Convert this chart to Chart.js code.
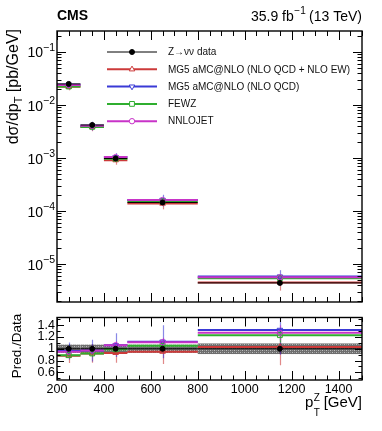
<!DOCTYPE html>
<html>
<head>
<meta charset="utf-8">
<script src="https://cdn.jsdelivr.net/npm/chart.js@4.4.0/dist/chart.umd.min.js"></script>
<style>
  html, body { margin: 0; padding: 0; background: #fff; }
  #wrap { position: relative; width: 382px; height: 431px; overflow: hidden; }
  #main { position: absolute; left: 0; top: 0; }
  #ratio { position: absolute; left: 0; top: 308px; }
</style>
</head>
<body>
<div id="wrap">
  <canvas id="main" width="382" height="308"></canvas>
  <canvas id="ratio" width="382" height="123"></canvas>
</div>
<script>
const FONT = '"Liberation Sans", Arial, Helvetica, sans-serif';

// binning in pT(Z) [GeV]
const binEdges = [200, 300, 400, 500, 800, 1500];
const binCenters = [250, 350, 450, 650, 1150];

// dsigma/dpT [pb/GeV]
const dataXsec    = [0.0250, 0.0042, 0.00098, 1.45e-4, 4.4e-6];
const nloEwXsec   = [0.0220, 0.00386, 0.00091, 1.38e-4, 4.5e-6];
const nloQcdXsec  = [0.0240, 0.00407, 0.00104, 1.62e-4, 5.8e-6];
const fewzXsec    = [0.0223, 0.00386, 0.00097, 1.52e-4, 5.4e-6];
const nnlojetXsec = [0.0238, 0.00407, 0.00104, 1.61e-4, 5.6e-6];

// Pred./Data
const dataRatio    = [1, 1, 1, 1, 1];
const nloEwRatio   = [0.88, 0.92, 0.93, 0.95, 1.03];
const nloQcdRatio  = [0.96, 0.97, 1.06, 1.12, 1.32];
const fewzRatio    = [0.89, 0.92, 0.99, 1.05, 1.23];
const nnlojetRatio = [0.95, 0.97, 1.06, 1.11, 1.27];

// relative uncertainties
const dataRelErr    = [0.07, 0.07, 0.07, 0.07, 0.09];
const nloEwRelErr   = [0.14, 0.17, 0.18, 0.22, 0.30];
const nloQcdRelErr  = [0.15, 0.19, 0.19, 0.25, 0.32];
const fewzRelErr    = [0.05, 0.06, 0.06, 0.08, 0.10];
const nnlojetRelErr = [0.04, 0.05, 0.06, 0.07, 0.10];

// tick labels
const xTicks = [200, 400, 600, 800, 1000, 1200, 1400];
const yTicksMain = [1e-5, 1e-4, 1e-3, 1e-2, 1e-1];
const yTicksRatio = [0.6, 0.8, 1, 1.2, 1.4];

const series = [
  { label: 'Z\u2192\u03bd\u03bd data', xsec: dataXsec, ratio: dataRatio, err: dataRelErr,
    color: '#000000', barColor: '#000000', style: 'circle', rot: 0, fill: true, width: 1, r: 2.5 },
  { label: 'MG5 aMC@NLO (NLO QCD + NLO EW)', xsec: nloEwXsec, ratio: nloEwRatio, err: nloEwRelErr,
    color: '#cc3a3a', barColor: 'rgba(204,58,58,0.6)', style: 'triangle', rot: 0, fill: false, width: 2, r: 3.2 },
  { label: 'MG5 aMC@NLO (NLO QCD)', xsec: nloQcdXsec, ratio: nloQcdRatio, err: nloQcdRelErr,
    color: '#3a3ad6', barColor: 'rgba(58,58,214,0.6)', style: 'triangle', rot: 180, fill: false, width: 2, r: 3.2 },
  { label: 'FEWZ', xsec: fewzXsec, ratio: fewzRatio, err: fewzRelErr,
    color: '#2fae2f', barColor: 'rgba(47,174,47,0.8)', style: 'rect', rot: 0, fill: false, width: 2, r: 3.4 },
  { label: 'NNLOJET', xsec: nnlojetXsec, ratio: nnlojetRatio, err: nnlojetRelErr,
    color: '#c833c8', barColor: 'rgba(200,51,200,0.7)', style: 'circle', rot: 0, fill: false, width: 2, r: 2.7 }
];

function stepPoints(vals) {
  const pts = [];
  vals.forEach((v, i) => {
    pts.push({ x: binEdges[i], y: v }, { x: binEdges[i + 1], y: v }, { x: binEdges[i + 1], y: null });
  });
  return pts;
}

function buildDatasets(key) {
  const sets = [];
  series.forEach((s, k) => {
    const vals = s[key];
    const order = k === 0 ? 0 : 10 - k;
    sets.push({
      data: stepPoints(vals), borderColor: s.color, borderWidth: s.width,
      pointRadius: 0, spanGaps: false, order: order + 20
    });
    sets.push({
      data: binCenters.map((x, i) => ({ x: x, y: vals[i] })),
      showLine: false, pointStyle: s.style, rotation: s.rot,
      pointRadius: s.r, pointBorderWidth: 1,
      pointBorderColor: s.color,
      pointBackgroundColor: s.fill ? s.color : 'rgba(255,255,255,0)',
      order: order,
      barColor: s.barColor,
      bars: vals.map((v, i) => [v * (1 - s.err[i]), v * (1 + s.err[i])])
    });
  });
  return sets;
}

const errorBars = {
  id: 'errorBars',
  beforeDatasetsDraw(chart) {
    const { ctx, chartArea: a, scales: { x, y } } = chart;
    ctx.save();
    ctx.beginPath();
    ctx.rect(a.left, a.top, a.right - a.left, a.bottom - a.top);
    ctx.clip();
    chart.data.datasets.forEach(ds => {
      if (!ds.bars) return;
      ctx.strokeStyle = ds.barColor;
      ctx.lineWidth = 1.2;
      ds.data.forEach((p, i) => {
        const px = Math.round(x.getPixelForValue(p.x)) + 0.5;
        ctx.beginPath();
        ctx.moveTo(px, y.getPixelForValue(ds.bars[i][0]));
        ctx.lineTo(px, y.getPixelForValue(ds.bars[i][1]));
        ctx.stroke();
      });
    });
    ctx.restore();
  }
};

function hatchPattern(ctx) {
  const c = document.createElement('canvas');
  c.width = 4; c.height = 4;
  const g = c.getContext('2d');
  g.fillStyle = '#6e6e6e';
  g.fillRect(0, 0, 4, 4);
  g.fillStyle = '#bdbdbd';
  g.fillRect(0, 0, 1, 1); g.fillRect(2, 2, 1, 1);
  g.fillStyle = '#959595';
  g.fillRect(2, 0, 1, 1); g.fillRect(0, 2, 1, 1);
  return ctx.createPattern(c, 'repeat');
}

const dataBand = {
  id: 'dataBand',
  beforeDatasetsDraw(chart) {
    const { ctx, scales: { x, y } } = chart;
    ctx.save();
    ctx.fillStyle = hatchPattern(ctx);
    dataRelErr.forEach((e, i) => {
      const x0 = x.getPixelForValue(binEdges[i]);
      const x1 = x.getPixelForValue(binEdges[i + 1]);
      const y0 = y.getPixelForValue(1 + e);
      const y1 = y.getPixelForValue(1 - e);
      ctx.fillRect(x0, y0, x1 - x0, y1 - y0);
    });
    ctx.restore();
  }
};

function drawTicks(chart, yMajor, yMinor, xMajLen, xMinLen, yMajLen, yMinLen) {
  const { ctx, chartArea: a, scales: { x, y } } = chart;
  ctx.save();
  ctx.strokeStyle = '#000';
  ctx.lineWidth = 1;
  ctx.beginPath();
  for (let v = 200; v <= 1500; v += 50) {
    const px = Math.round(x.getPixelForValue(v)) + 0.5;
    const len = v % 200 === 0 ? xMajLen : xMinLen;
    ctx.moveTo(px, a.bottom); ctx.lineTo(px, a.bottom - len);
    ctx.moveTo(px, a.top); ctx.lineTo(px, a.top + len);
  }
  yMajor.forEach(v => {
    const py = Math.round(y.getPixelForValue(v)) + 0.5;
    if (py < a.top || py > a.bottom) return;
    ctx.moveTo(a.left, py); ctx.lineTo(a.left + yMajLen, py);
    ctx.moveTo(a.right, py); ctx.lineTo(a.right - yMajLen, py);
  });
  yMinor.forEach(v => {
    const py = Math.round(y.getPixelForValue(v)) + 0.5;
    if (py < a.top || py > a.bottom) return;
    ctx.moveTo(a.left, py); ctx.lineTo(a.left + yMinLen, py);
    ctx.moveTo(a.right, py); ctx.lineTo(a.right - yMinLen, py);
  });
  ctx.stroke();
  ctx.lineWidth = 1.4;
  ctx.strokeRect(a.left, a.top, a.right - a.left, a.bottom - a.top);
  ctx.restore();
}

const mainDecor = {
  id: 'mainDecor',
  afterDraw(chart) {
    const { ctx, scales: { y } } = chart;
    const minor = [];
    for (let n = -6; n <= 0; n++) for (let k = 2; k <= 9; k++) minor.push(k * Math.pow(10, n));
    drawTicks(chart, yTicksMain, minor, 9, 5, 9, 4.5);

    ctx.save();
    ctx.fillStyle = '#000';
    ctx.textBaseline = 'alphabetic';
    // header
    ctx.font = 'bold 14px ' + FONT;
    ctx.textAlign = 'left';
    ctx.fillText('CMS', 57, 20);
    ctx.font = '14px ' + FONT;
    const p1 = '35.9 fb', p3 = ' (13 TeV)';
    const w1 = ctx.measureText(p1).width, w3 = ctx.measureText(p3).width;
    ctx.font = '10px ' + FONT;
    const w2 = ctx.measureText('\u22121').width;
    const hx = 362 - (w1 + w2 + w3);
    ctx.font = '14px ' + FONT;
    ctx.fillText(p1, hx, 20.5);
    ctx.font = '10px ' + FONT;
    ctx.fillText('\u22121', hx + w1 + 0.5, 14);
    ctx.font = '14px ' + FONT;
    ctx.fillText(p3, hx + w1 + w2, 20.5);

    // y tick labels 10^n
    yTicksMain.forEach(v => {
      const py = y.getPixelForValue(v);
      const exp = '\u2212' + Math.round(-Math.log10(v));
      ctx.font = '10.5px ' + FONT;
      const we = ctx.measureText(exp).width;
      ctx.textAlign = 'left';
      ctx.fillText(exp, 55 - we, py - 1);
      ctx.font = '14px ' + FONT;
      ctx.textAlign = 'right';
      ctx.fillText('10', 55 - we, py + 5.5);
    });

    // y title
    ctx.save();
    ctx.translate(18, 29);
    ctx.rotate(-Math.PI / 2);
    ctx.textAlign = 'left';
    ctx.font = '16px ' + FONT;
    const t1 = 'd\u03c3/dp', t3 = ' [pb/GeV]';
    const a1 = ctx.measureText(t1).width, a3 = ctx.measureText(t3).width;
    ctx.font = '11px ' + FONT;
    const a2 = ctx.measureText('T').width;
    const tx = -(a1 + a2 + a3);
    ctx.font = '16px ' + FONT;
    ctx.fillText(t1, tx, 0);
    ctx.font = '11px ' + FONT;
    ctx.fillText('T', tx + a1, 4);
    ctx.font = '16px ' + FONT;
    ctx.fillText(t3, tx + a1 + a2, 0);
    ctx.restore();

    // legend
    const helpers = Chart.helpers;
    series.forEach((s, i) => {
      const ly = 52 + i * 17.3;
      ctx.strokeStyle = s.color;
      ctx.lineWidth = s.width;
      ctx.beginPath();
      ctx.moveTo(107, ly); ctx.lineTo(157, ly);
      ctx.stroke();
      ctx.fillStyle = s.fill ? s.color : '#ffffff';
      ctx.strokeStyle = s.color;
      ctx.lineWidth = 1;
      helpers.drawPoint(ctx, { pointStyle: s.style, rotation: s.rot, radius: s.r, borderWidth: 1 }, 132, ly);
      ctx.fillStyle = '#111';
      ctx.font = '10px ' + FONT;
      ctx.textAlign = 'left';
      ctx.textBaseline = 'middle';
      ctx.fillText(s.label, 168, ly + 0.5);
      ctx.textBaseline = 'alphabetic';
    });
    ctx.restore();
  }
};

const ratioDecor = {
  id: 'ratioDecor',
  afterDraw(chart) {
    const { ctx } = chart;
    const minor = [0.5, 0.7, 0.9, 1.1, 1.3, 1.5];
    drawTicks(chart, yTicksRatio, minor, 9, 4.5, 7, 3.5);
    ctx.save();
    ctx.fillStyle = '#000';
    ctx.textBaseline = 'alphabetic';
    // y title (canvas starts at page y = 308)
    ctx.save();
    ctx.translate(21, 38);
    ctx.rotate(-Math.PI / 2);
    ctx.font = '13.5px ' + FONT;
    ctx.textAlign = 'center';
    ctx.fillText('Pred./Data', 0, 0);
    ctx.restore();
    // x title
    ctx.font = '15px ' + FONT;
    const b1 = 'p', b3 = ' [GeV]';
    const w1 = ctx.measureText(b1).width, w3 = ctx.measureText(b3).width;
    ctx.font = '10px ' + FONT;
    const w2 = Math.max(ctx.measureText('Z').width, ctx.measureText('T').width);
    const bx = 362 - (w1 + w2 + w3);
    const by = 99;
    ctx.textAlign = 'left';
    ctx.font = '15px ' + FONT;
    ctx.fillText(b1, bx, by);
    ctx.font = '10px ' + FONT;
    ctx.fillText('Z', bx + w1 + 0.5, by - 6);
    ctx.fillText('T', bx + w1 + 0.5, by + 9);
    ctx.font = '15px ' + FONT;
    ctx.fillText(b3, bx + w1 + w2, by);
    ctx.restore();
  }
};

new Chart(document.getElementById('main'), {
  type: 'line',
  data: { datasets: buildDatasets('xsec') },
  options: {
    responsive: false,
    animation: false,
    layout: { padding: { top: 31, right: 20, bottom: 6, left: 0 } },
    plugins: { legend: { display: false }, tooltip: { enabled: false } },
    scales: {
      x: {
        type: 'linear', min: 200, max: 1500,
        grid: { display: false }, border: { display: false },
        ticks: { display: false },
        afterFit: s => { s.height = 0; }
      },
      y: {
        type: 'logarithmic', min: 1.92e-6, max: 0.249,
        grid: { display: false }, border: { display: false },
        ticks: { display: false },
        afterBuildTicks: s => { s.ticks = yTicksMain.map(v => ({ value: v })); },
        afterFit: s => { s.width = 57; }
      }
    }
  },
  plugins: [errorBars, mainDecor]
});

new Chart(document.getElementById('ratio'), {
  type: 'line',
  data: { datasets: buildDatasets('ratio') },
  options: {
    responsive: false,
    animation: false,
    layout: { padding: { top: 6, right: 20, bottom: 0, left: 0 } },
    plugins: { legend: { display: false }, tooltip: { enabled: false } },
    scales: {
      x: {
        type: 'linear', min: 200, max: 1500,
        grid: { display: false, drawTicks: false }, border: { display: false },
        ticks: { color: '#000', font: { family: FONT, size: 12.5 }, padding: 2, maxRotation: 0,
                 autoSkip: false, callback: v => String(v) },
        afterBuildTicks: s => { s.ticks = xTicks.map(v => ({ value: v })); },
        afterFit: s => { s.height = 51; }
      },
      y: {
        type: 'linear', min: 0.47, max: 1.53,
        grid: { display: false, drawTicks: false }, border: { display: false },
        ticks: { color: '#000', font: { family: FONT, size: 12.5 }, padding: 2, autoSkip: false,
                 callback: v => String(Math.round(v * 10) / 10) },
        afterBuildTicks: s => { s.ticks = yTicksRatio.map(v => ({ value: v })); },
        afterFit: s => { s.width = 57; }
      }
    }
  },
  plugins: [dataBand, errorBars, ratioDecor]
});
</script>
</body>
</html>
